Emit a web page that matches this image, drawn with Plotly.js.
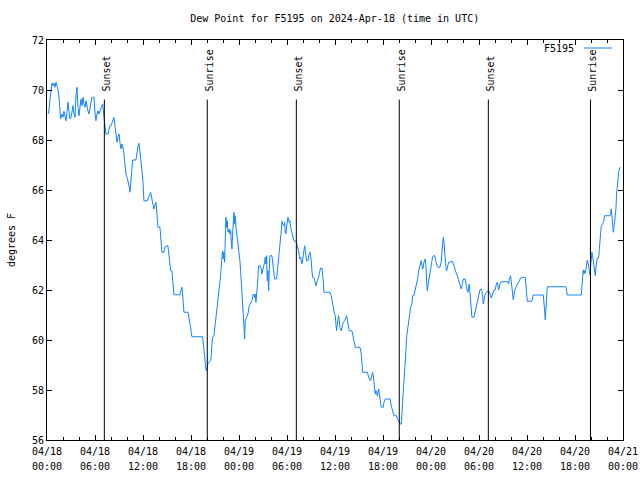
<!DOCTYPE html>
<html>
<head>
<meta charset="utf-8">
<script src="https://cdn.plot.ly/plotly-3.0.1.min.js"></script>
<style>html,body{margin:0;padding:0;background:#fff;}#chart{width:640px;height:480px;}</style>
</head>
<body>
<div id="chart"></div>
<script>
// Minutes after 2024-04-18 00:00 UTC
var minutes = [8,15,22,32,37,45,52,60,67,75,
82,90,97,102,112,120,127,135,142,150,
157,165,172,180,187,195,202,210,217,225,
232,240,247,255,262,270,277,285,292,300,
307,315,322,330,337,352,360,367,375,382,
390,397,407,417,427,432,442,457,465,472,
480,487,495,502,510,517,525,532,540,547,
555,562,570,577,585,592,600,607,615,622,
630,637,642,667,675,682,690,697,705,712,720,
722,727,752,767,777,787,797,802,812,817,
822,827,832,847,852,857,862,877,882,907,
912,922,927,937,942,947,952,997,1007,1012,
1017,1022,1027,1057,1062,1072,1077,1082,1087,1167,1172,
1182,1192,1197,1207,1227,1232,1237,1242,1252,
1262,1272,1282,1292,1302,1310,1317,1322,1327,1332,
1337,1342,1347,1352,1357,1362,1367,1372,1377,1382,
1387,1392,1397,1402,1407,1412,1417,1427,1437,1447,
1452,1457,1462,1467,1472,1477,1482,1487,1497,1507,
1517,1527,1537,1547,1557,1562,1567,1577,1582,1587,
1597,1607,1612,1622,1632,1637,1642,1647,1652,1657,
1662,1667,1672,1687,1692,1702,1707,1722,1727,1737,
1747,1757,1762,1767,1777,1782,1787,1792,1797,1802,
1807,1817,1822,1827,1832,1842,1852,1867,1877,1887,
1892,1897,1902,1907,1912,1922,1927,1932,1937,1942,
1947,1957,1962,1972,1977,1982,1987,1992,2002,2007,
2012,2017,2027,2037,2047,2052,2062,2067,2072,2077,
2122,2132,2137,2147,2157,2162,2167,2172,2177,2182,
2187,2192,2197,2207,2212,2222,2232,2242,2247,2252,
2257,2267,2287,2297,2307,2312,2347,2357,2362,2367,
2402,2407,2417,2427,2437,2442,2447,2452,2457,2462,
2467,2472,2477,2487,2492,2497,2502,2507,2522,2527,
2537,2572,2582,2592,2602,2622,2627,2637,2647,2657,
2662,2672,2677,2682,2687,2692,2697,2702,2707,2717,
2722,2727,2737,2742,2752,2757,2767,2772,2777,2782,
2787,2792,2797,2802,2807,2812,2817,2822,2827,2837,
2842,2847,2852,2857,2862,2867,2872,2877,2882,2887,
2892,2897,2907,2912,2922,2932,2947,2952,2957,2962,
2967,2972,2977,2982,2987,2992,2997,3002,3012,3042,
3047,3057,3067,3077,3087,3097,3107,3112,3122,3137,
3142,3147,3152,3157,3162,3167,3172,3177,3182,3187,
3202,3210,3220,3230,3240,3247,3257,3262,3267,3272,
3277,3282,3292,3302,3312,3322,3327,3332,3337,3342,
3352,3362,3367,3377,3382,3387,3392,3397,3407,3457,
3462,3467,3477,3482,3487,3492,3497,3502,3507,3517,
3527,3537,3547,3552,3562,3587,3592,3597,3602,3637,
3642,3647,3722,3727,3732,3737,3742,3747,3752,3892,
3897,3902,4007,4012,4017,4022,4027,4032,4037,4042,
4047,4052,4057,4062,4067,4072,4082,4087,4092,4097,
4102,4107,4112,4117,4122,4127,4137,4142,4147,4152,
4157,4167,4177,4182,4222,4227,4232,4237,4242,4247,
4257,4267,4272,4277,4282,4287,4292,4297];

// Dew point, degrees F
var dewPoint = [69.04,69.20,69.57,70.04,70.27,70.17,70.27,70.11,70.31,70.17,
70.04,69.71,69.11,68.84,69.04,68.91,69.15,68.97,68.77,69.11,
69.51,69.17,68.84,68.91,69.11,69.37,69.04,68.91,69.77,70.11,
69.31,68.97,69.31,69.64,69.37,69.71,69.44,69.31,69.57,69.31,
69.17,69.04,69.37,69.51,69.71,69.71,69.11,68.77,69.04,69.17,
69.04,69.20,69.31,69.44,69.04,68.71,68.24,68.24,68.44,68.57,
68.57,68.71,68.84,68.91,68.57,68.17,67.91,68.11,68.24,67.91,
67.64,67.84,67.71,67.44,66.77,66.64,66.51,66.37,66.17,65.91,
66.37,66.91,67.20,67.20,67.51,67.73,67.87,67.57,67.17,66.77,66.31,
65.91,65.57,65.57,65.77,65.91,65.64,65.44,65.24,65.44,65.51,
65.24,64.77,64.51,64.51,64.24,63.84,63.51,63.51,63.71,63.77,
63.44,63.04,62.77,62.77,62.51,62.11,61.81,61.81,62.04,62.11,
61.84,61.44,61.11,61.11,60.97,60.77,60.51,60.31,60.13,60.13,59.84,
59.11,58.84,58.77,59.07,59.17,59.37,59.84,60.11,60.17,
60.64,61.17,61.57,62.11,62.57,63.17,63.57,63.24,63.51,63.11,
64.44,64.91,64.51,64.77,64.31,64.37,64.44,64.24,64.37,63.97,
63.64,64.24,64.77,65.11,64.64,64.97,64.51,64.11,63.64,63.17,
62.77,62.37,62.11,61.44,61.04,60.57,60.04,60.77,60.91,61.04,
61.37,61.51,61.57,61.84,61.71,61.84,61.51,62.11,62.57,62.97,
62.97,62.84,62.64,62.84,63.11,63.31,63.04,63.37,62.37,62.77,
61.97,62.77,63.37,63.37,63.11,62.64,62.44,62.44,62.71,63.17,
63.64,64.37,64.75,64.64,64.57,64.71,64.31,64.24,64.51,64.71,
64.91,64.71,64.77,64.51,64.37,64.11,63.97,63.95,63.77,63.57,
63.37,63.24,63.31,63.11,63.04,63.37,63.71,63.77,63.57,63.37,
63.17,63.17,63.37,63.51,63.37,63.17,62.77,62.51,62.51,62.37,
62.31,62.17,62.37,62.51,62.77,62.88,62.88,62.71,62.37,61.91,
61.91,61.77,61.57,61.31,61.04,60.97,60.64,60.37,60.64,60.84,
60.97,60.77,60.51,60.37,60.51,60.71,60.77,60.91,60.97,60.84,
60.64,60.37,60.37,60.11,59.84,59.71,59.71,59.44,59.11,58.71,
58.71,58.57,58.44,58.37,58.64,58.71,58.57,58.37,58.04,57.84,
57.97,57.91,57.77,58.04,57.84,57.71,57.51,57.31,57.31,57.51,
57.64,57.64,57.37,57.17,56.97,56.97,56.84,56.77,56.64,56.64,
57.04,57.57,57.97,58.37,58.97,59.57,60.11,60.31,60.51,60.71,
61.04,61.31,61.44,61.77,61.77,61.91,62.04,62.17,62.31,62.51,
62.77,62.91,62.97,63.04,63.17,62.97,62.84,62.91,63.11,63.24,
62.97,62.37,61.97,62.17,62.37,62.51,62.71,62.91,63.04,63.17,
63.31,63.37,63.37,63.24,63.04,62.91,62.91,63.04,63.11,63.51,
63.84,64.11,63.91,63.51,63.17,62.91,62.77,62.91,63.11,63.15,
63.04,62.91,62.71,62.57,62.37,62.17,62.04,62.17,62.44,62.44,
62.24,62.04,61.97,61.91,62.11,62.24,61.91,61.57,61.17,60.91,
60.91,61.11,61.37,61.60,61.77,62.00,62.04,61.97,61.71,61.44,
61.57,61.77,61.87,61.95,61.97,61.87,61.77,61.68,61.77,61.91,
62.00,62.00,62.17,62.31,62.13,62.00,62.11,62.24,62.33,62.33,
62.24,62.44,62.57,62.37,62.11,61.84,61.61,61.77,61.97,62.11,
62.21,62.31,62.37,62.48,62.51,62.51,62.17,61.77,61.55,61.55,
61.68,61.80,61.80,61.57,61.17,60.80,61.17,61.57,62.13,62.13,
61.95,61.80,61.80,62.08,62.53,62.80,62.64,62.77,62.67,62.91,
63.04,63.20,63.11,62.91,62.71,62.61,63.24,63.51,63.37,63.11,
62.91,62.77,62.57,62.91,63.17,63.28,63.28,63.57,63.91,64.24,
64.57,64.64,64.77,64.97,64.97,65.04,65.24,64.97,64.64,64.31,
64.71,65.24,65.84,66.37,66.37,66.71,66.84,66.91];

var eventTimes = ["2024-04-18 07:10","2024-04-18 20:02","2024-04-19 07:10","2024-04-19 20:02","2024-04-20 07:10","2024-04-20 19:56"];
var eventLabels = ["Sunset","Sunrise","Sunset","Sunrise","Sunset","Sunrise"];
var seriesName = "F5195";
var titleText = "Dew Point for F5195 on 2024-Apr-18 (time in UTC)";
var xRange = ["2024-04-18 00:00", "2024-04-21 00:00"];

var startMs = Date.UTC(2024, 3, 18, 0, 0);
var xTimes = minutes.map(function (m) { return startMs + m * 60000; });

var FONT = "DejaVu Sans Mono";
var lineColor = "#1084ff";

var trace = {
  x: xTimes, y: dewPoint, type: "scatter", mode: "lines",
  name: seriesName, line: {color: lineColor, width: 1}, showlegend: false,
  hoverinfo: "skip"
};
// carrier for the second row of time labels (draws nothing)
var timeRowCarrier = {x: [startMs], y: [null], xaxis: "x2", yaxis: "y", type: "scatter",
  mode: "lines", showlegend: false, hoverinfo: "skip"};

var shapes = [];
var annotations = [];
eventTimes.forEach(function (t, i) {
  shapes.push({type: "line", xref: "x", yref: "paper", x0: t, x1: t, y0: 0, y1: 0.851,
    line: {color: "#000", width: 1}});
  annotations.push({xref: "x", yref: "paper", x: t, y: 0.852, yanchor: "bottom", xanchor: "center",
    text: eventLabels[i], textangle: -90, showarrow: false, xshift: 2, yshift: 6,
    font: {family: FONT, size: 10, color: "#000"}});
});
// legend (gnuplot style: text then sample)
annotations.push({xref: "paper", yref: "paper", x: 0.919, y: 0.98, xanchor: "right", yanchor: "middle",
  text: seriesName, showarrow: false, font: {family: FONT, size: 10, color: "#000"}});
shapes.push({type: "line", xref: "paper", yref: "paper", x0: 0.932, x1: 0.981, y0: 0.98, y1: 0.98,
  line: {color: lineColor, width: 1}});

var tickFont = {family: FONT, size: 10, color: "#000"};
var axisCommon = {
  showline: true, linecolor: "#000", linewidth: 1, mirror: "ticks",
  ticks: "inside", ticklen: 5, tickcolor: "#000", tickwidth: 1,
  showgrid: false, zeroline: false, tickfont: tickFont
};

var layout = {
  width: 640, height: 480, autosize: false,
  paper_bgcolor: "#fff", plot_bgcolor: "#fff",
  margin: {l: 47, r: 17, t: 40, b: 40, pad: 0},
  title: {text: titleText, font: {family: FONT, size: 10, color: "#000"}, x: 0.523, xanchor: "center", y: 0.962, yanchor: "middle"},
  xaxis: Object.assign({}, axisCommon, {
    type: "date", range: xRange,
    tick0: "2024-04-18 00:00", dtick: 21600000, tickformat: "%m/%d", ticklabelstandoff: 2,
    minor: {ticks: "inside", ticklen: 3, dtick: 7200000, tickcolor: "#000", showgrid: false}
  }),
  xaxis2: {
    type: "date", range: xRange, overlaying: "x", anchor: "y", side: "bottom",
    tick0: "2024-04-18 00:00", dtick: 21600000, tickformat: "%H:%M",
    ticks: "", showline: false, showgrid: false, zeroline: false,
    tickfont: tickFont, ticklabelstandoff: 19
  },
  yaxis: Object.assign({}, axisCommon, {
    range: [56, 72], dtick: 2, tick0: 56,
    title: {text: "degrees F", font: {family: FONT, size: 10, color: "#000"}, standoff: 14}
  }),
  shapes: shapes, annotations: annotations, showlegend: false
};

Plotly.newPlot("chart", [trace, timeRowCarrier], layout, {staticPlot: true, displayModeBar: false});
</script>
</body>
</html>
